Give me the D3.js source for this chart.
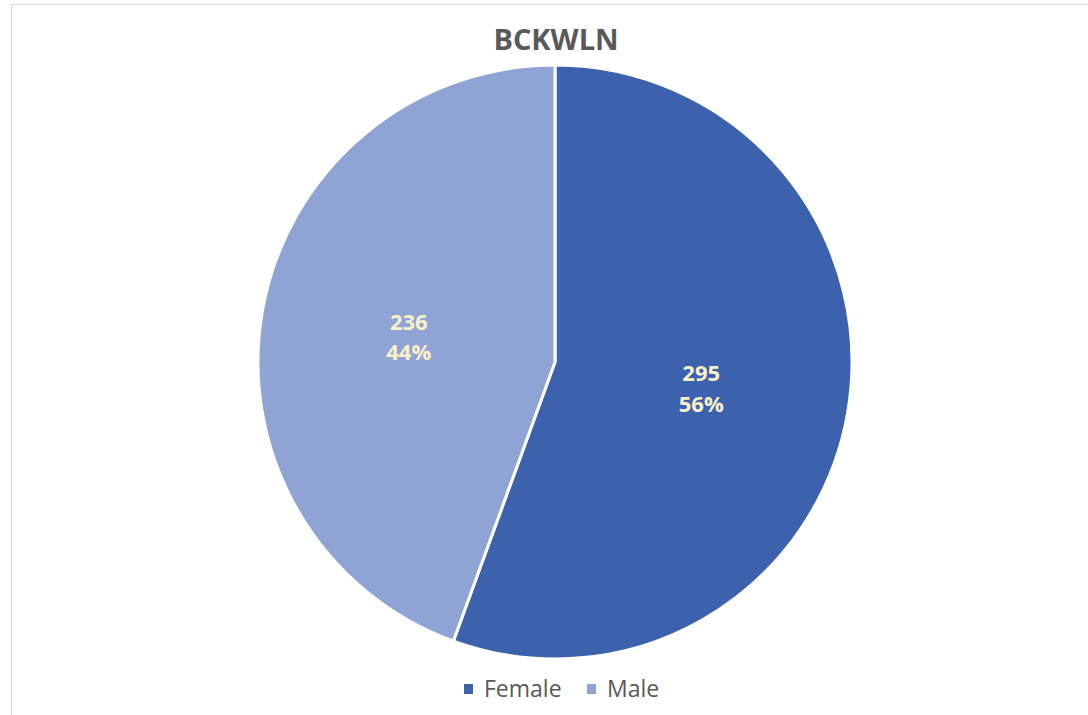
<!DOCTYPE html>
<html><head><meta charset="utf-8">
<script src="https://cdn.jsdelivr.net/npm/d3@7"></script>
<style>body{margin:0;background:#fff;} svg{display:block;}</style>
</head><body>
<svg id="chart" width="1088" height="715"></svg>
<script>
const categories = ["Female", "Male"];
const values = [295, 236];
const percentLabels = ["56%", "44%"];
const title = "BCKWLN";
const colors = ["#3c62ad", "#8fa3d4"];

const svg = d3.select("#chart");
svg.append("rect").attr("x", 11.5).attr("y", 4.5).attr("width", 1100).attr("height", 730)
  .attr("fill", "#fff").attr("stroke", "#d9d9d9").attr("stroke-width", 1);

const font = "'Open Sans', 'Noto Sans', sans-serif";
svg.append("text").attr("x", 556).attr("y", 50).attr("text-anchor", "middle")
  .attr("font-family", font).attr("font-weight", "bold").attr("font-size", 29)
  .attr("fill", "#595959").text(title);

const cx = 555, cy = 362, R = 297;
const color = d3.scaleOrdinal().domain(categories).range(colors);
const pie = d3.pie().sort(null).value(d => d.v);
const data = categories.map((c, i) => ({c, v: values[i], p: percentLabels[i]}));
const arcs = pie(data);
const arc = d3.arc().innerRadius(0).outerRadius(R);
const labelArc = d3.arc().innerRadius(R * 0.5).outerRadius(R * 0.5);
const g = svg.append("g").attr("transform", `translate(${cx},${cy})`);
g.selectAll("path").data(arcs).join("path")
  .attr("d", arc).attr("fill", d => color(d.data.c))
  .attr("stroke", "#fff").attr("stroke-width", 3).attr("stroke-linejoin", "round");

const lab = g.selectAll("text.lab").data(arcs).join("text").attr("class", "lab")
  .attr("transform", d => `translate(${labelArc.centroid(d)})`)
  .attr("text-anchor", "middle").attr("font-family", font).attr("font-weight", "bold")
  .attr("font-size", 22).attr("fill", "#fbf0c8");
lab.append("tspan").attr("x", 0).attr("dy", "-0.3em").text(d => d.data.v);
lab.append("tspan").attr("x", 0).attr("dy", "1.4em").text(d => d.data.p);

// legend
const legend = svg.append("g");
const items = [{x: 464, c: categories[0]}, {x: 587, c: categories[1]}];
items.forEach(it => {
  legend.append("rect").attr("x", it.x).attr("y", 684).attr("width", 9).attr("height", 10)
    .attr("fill", color(it.c));
  legend.append("text").attr("x", it.x + 20).attr("y", 697).attr("font-family", font)
    .attr("font-size", 23).attr("fill", "#595959").text(it.c);
});
</script>
</body></html>
